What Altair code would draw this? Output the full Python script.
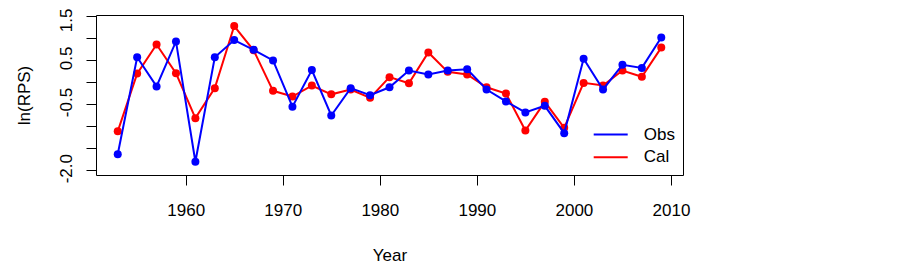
import altair as alt
import pandas as pd

years = [1953, 1955, 1957, 1959, 1961, 1963, 1965, 1967, 1969, 1971,
         1973, 1975, 1977, 1979, 1981, 1983, 1985, 1987, 1989, 1991,
         1993, 1995, 1997, 1999, 2001, 2003, 2005, 2007, 2009]
obs = [-1.64, 0.56, -0.10, 0.92, -1.81, 0.56, 0.95, 0.73, 0.49, -0.56,
       0.27, -0.76, -0.14, -0.30, -0.12, 0.26, 0.17, 0.26, 0.29, -0.17,
       -0.44, -0.69, -0.54, -1.16, 0.53, -0.17, 0.39, 0.32, 1.01]
cal = [-1.12, 0.19, 0.85, 0.20, -0.82, -0.14, 1.27, 0.72, -0.20, -0.33,
       -0.08, -0.28, -0.17, -0.36, 0.11, -0.03, 0.67, 0.23, 0.17, -0.12,
       -0.26, -1.10, -0.45, -1.04, -0.02, -0.08, 0.26, 0.12, 0.78]
series_names = ["Obs", "Cal"]
series_colors = ["#0000FF", "#FF0000"]
x_ticks = [1960, 1970, 1980, 1990, 2000, 2010]
y_ticks = [-2.0, -1.5, -1.0, -0.5, 0.0, 0.5, 1.0, 1.5]
y_labeled = [1.5, 0.5, -0.5, -2.0]

df = pd.DataFrame({
    "Year": years + years,
    "value": obs + cal,
    "series": ["Obs"] * len(years) + ["Cal"] * len(years),
})

FONT = "Liberation Sans"
FS = 17

x = alt.X("Year:Q",
          scale=alt.Scale(domain=[1950.76, 2011.24], nice=False, zero=False),
          axis=alt.Axis(values=x_ticks, format="d", grid=False, domain=False,
                        tickSize=10, tickColor="black", labelColor="black",
                        labelFont=FONT, labelFontSize=FS, labelPadding=17,
                        title="Year", titleFont=FONT, titleFontSize=FS,
                        titleFontWeight="normal", titleColor="black",
                        titleBaseline="alphabetic", titleY=85))
y = alt.Y("value:Q",
          scale=alt.Scale(domain=[-2.11, 1.52], nice=False, zero=False),
          axis=alt.Axis(values=y_ticks, grid=False, domain=False,
                        tickSize=10, tickColor="black", labelColor="black",
                        labelFont=FONT, labelFontSize=FS, labelAngle=270,
                        labelAlign="center", labelBaseline="bottom",
                        labelPadding=11,
                        labelOffset=alt.ExprRef("datum.value >= 1.5 ? 4 : -2"),
                        labelExpr="indexof(" + str(y_labeled) + ", datum.value) >= 0 ? "
                                  "(datum.value < 0 ? '-' : '') + format(abs(datum.value), '.1f') : ''",
                        title="ln(RPS)", titleFont=FONT, titleFontSize=FS,
                        titleFontWeight="normal", titleColor="black",
                        titleAngle=270, titleBaseline="middle", titleAlign="center",
                        titleX=-71.5, titleY=80))

color = alt.Color("series:N",
                  scale=alt.Scale(domain=series_names, range=series_colors),
                  legend=alt.Legend(title=None, orient="none", legendX=505.2, legendY=110,
                                    symbolType="M-2,0L2,0", symbolSize=289,
                                    symbolStrokeWidth=2, labelFont=FONT,
                                    labelFontSize=FS, labelColor="black",
                                    labelOffset=23.5, rowPadding=4.7, padding=0))

base = alt.Chart(df)

def layer_for(name, col):
    d = base.transform_filter(alt.datum.series == name)
    line = d.mark_line(strokeWidth=2).encode(x=x, y=y, color=color)
    pts = d.mark_circle(size=64, opacity=1, color=col).encode(x=x, y=y)
    return [line, pts]

layers = layer_for("Cal", "#FF0000") + layer_for("Obs", "#0000FF")

chart = alt.layer(*layers).properties(
    width=587, height=160,
    autosize=alt.AutoSizeParams(type="none"),
    padding={"left": 88, "top": 7, "right": 200, "bottom": 92},
    background="white",
).configure_view(stroke="black", strokeWidth=1)

chart.save("out.html", embed_options={"renderer": "svg", "actions": False})
